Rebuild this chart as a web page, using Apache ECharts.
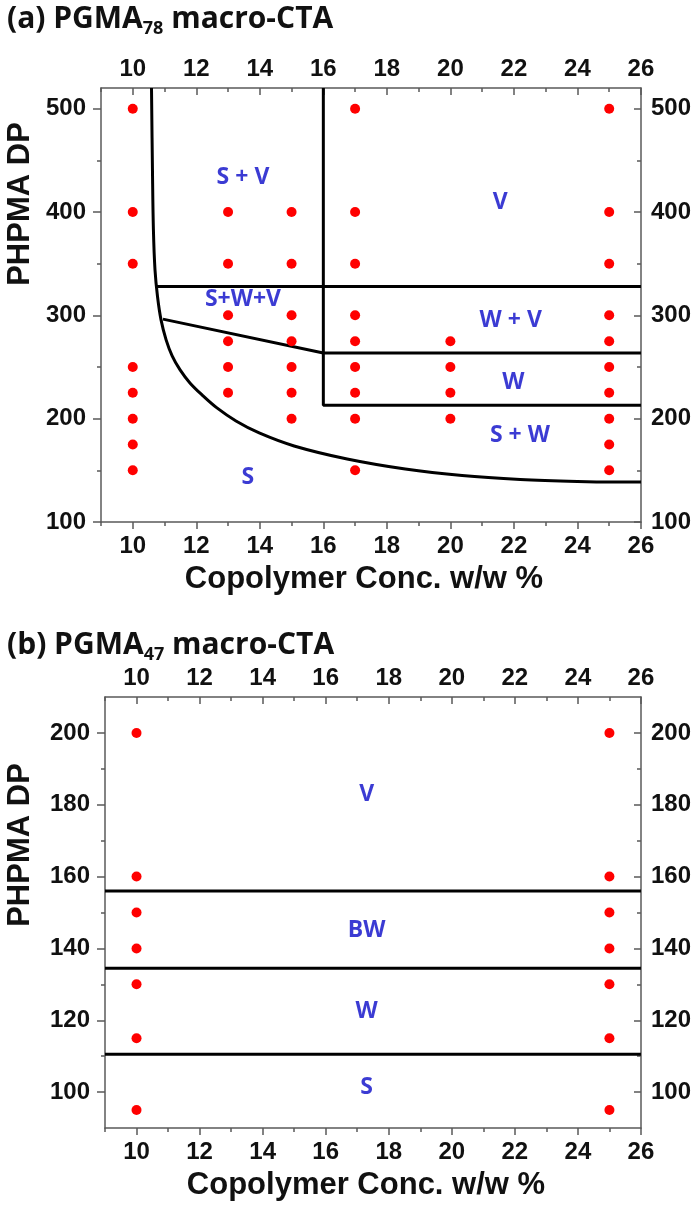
<!DOCTYPE html>
<html><head><meta charset="utf-8">
<script src="https://cdn.jsdelivr.net/npm/echarts@6/dist/echarts.min.js"></script>
<style>html,body{margin:0;padding:0;background:#fff}#c{width:694px;height:1209px}</style>
</head><body><div id="c"></div>
<script>
// ---------- data ----------
const xRange = [9, 26];
const xTicks = [10, 12, 14, 16, 18, 20, 22, 24, 26];
const xMinorTicks = [9, 10, 11, 12, 13, 14, 15, 16, 17, 18, 19, 20, 21, 22, 23, 24, 25, 26];

const yRangeA = [100, 520];
const yTicksA = [100, 200, 300, 400, 500];
const yMinorTicksA = [150, 250, 350, 450];

const yRangeB = [90, 210];
const yTicksB = [100, 120, 140, 160, 180, 200];
const yMinorTicksB = [110, 130, 150, 170, 190];

// panel (a) samples: [conc, DP]
const samplesA = [
  [10, 500], [10, 400], [10, 350], [10, 250], [10, 225], [10, 200], [10, 175], [10, 150],
  [13, 400], [13, 350], [13, 300], [13, 275], [13, 250], [13, 225],
  [15, 400], [15, 350], [15, 300], [15, 275], [15, 250], [15, 225], [15, 200],
  [17, 500], [17, 400], [17, 350], [17, 300], [17, 275], [17, 250], [17, 225], [17, 200], [17, 150],
  [20, 275], [20, 250], [20, 225], [20, 200],
  [25, 500], [25, 400], [25, 350], [25, 300], [25, 275], [25, 250], [25, 225], [25, 200], [25, 175], [25, 150]
];
// panel (a) phase boundaries
const curveA = [
  [10.59, 520], [10.62, 441], [10.65, 383], [10.70, 344], [10.78, 318], [10.89, 295.6],
  [11.05, 276.3], [11.24, 260.8], [11.49, 247.2], [11.80, 234.6], [12.18, 223.0], [12.65, 210.4],
  [13.25, 197.8], [13.98, 186.2], [15.08, 173.6], [16.75, 161.0], [18.58, 151.3], [20.37, 145.0],
  [22.2, 141.2], [24.0, 139.2], [25.19, 138.7], [26, 138.7]
];
const boundA_top = [[10.76, 328], [26, 328]];
const boundA_vert = [[16, 520], [16, 213], [26, 213]];
const boundA_diag = [[10.95, 296.3], [16, 263.5], [26, 263.5]];
const regionNamesA = ['S + V', 'S+W+V', 'V', 'W + V', 'W', 'S + W', 'S'];
const regionAtA = [[13.47, 433], [13.47, 315], [21.57, 409], [21.9, 295], [21.98, 235.5], [22.19, 184], [13.62, 143]];

// panel (b) samples
const samplesB = [
  [10, 200], [10, 160], [10, 150], [10, 140], [10, 130], [10, 115], [10, 95],
  [25, 200], [25, 160], [25, 150], [25, 140], [25, 130], [25, 115], [25, 95]
];
const boundB = [156, 134.5, 110.5];
const regionNamesB = ['V', 'BW', 'W', 'S'];
const regionAtB = [[17.3, 183], [17.3, 145], [17.3, 122.5], [17.3, 101.3]];

// ---------- style ----------
const AX = '#5a5a5a';
const TICK_FONT = 'Liberation Sans, Arial, sans-serif';
const LABEL_FONT = 'Open Sans, sans-serif';
const BLUE = '#0a0ac8';

function xAxesFor(gi, name) {
  const base = {type: 'value', gridIndex: gi, min: xRange[0], max: xRange[1], splitLine: {show: false}};
  const ls = {color: AX, width: 1.5};
  const lbl = {fontFamily: TICK_FONT, fontWeight: 'bold', fontSize: 24, color: '#111'};
  return [
    Object.assign({}, base, {position: 'bottom', name: name, nameLocation: 'middle', nameGap: 42,
      nameTextStyle: {fontFamily: TICK_FONT, fontWeight: 'bold', fontSize: 31, color: '#111', padding: [0, 14, 0, 0]},
      axisLine: {show: true, onZero: false, lineStyle: ls},
      axisTick: {show: true, inside: false, length: 7, customValues: xTicks, lineStyle: ls},
      axisLabel: Object.assign({show: true, customValues: xTicks, margin: 12}, lbl)}),
    Object.assign({}, base, {position: 'bottom', axisLine: {show: false},
      axisTick: {show: true, inside: false, length: 4, customValues: xMinorTicks, lineStyle: ls},
      axisLabel: {show: false}}),
    Object.assign({}, base, {position: 'top',
      axisLine: {show: true, onZero: false, lineStyle: ls},
      axisTick: {show: true, inside: true, length: 7, customValues: xTicks, lineStyle: ls},
      axisLabel: Object.assign({show: true, customValues: xTicks, margin: 7}, lbl)}),
    Object.assign({}, base, {position: 'top', axisLine: {show: false},
      axisTick: {show: true, inside: true, length: 4, customValues: xMinorTicks, lineStyle: ls},
      axisLabel: {show: false}})
  ];
}
function yAxesFor(gi, range, majors, minors) {
  const base = {type: 'value', gridIndex: gi, min: range[0], max: range[1], splitLine: {show: false}};
  const ls = {color: AX, width: 1.5};
  const lbl = {fontFamily: TICK_FONT, fontWeight: 'bold', fontSize: 24, color: '#111'};
  return [
    Object.assign({}, base, {position: 'left',
      axisLine: {show: true, onZero: false, lineStyle: ls},
      axisTick: {show: true, inside: false, length: 8, customValues: majors, lineStyle: ls},
      axisLabel: Object.assign({show: true, customValues: majors, margin: 15}, lbl)}),
    Object.assign({}, base, {position: 'left', axisLine: {show: false},
      axisTick: {show: true, inside: false, length: 4, customValues: minors, lineStyle: ls},
      axisLabel: {show: false}}),
    Object.assign({}, base, {position: 'right',
      axisLine: {show: true, onZero: false, lineStyle: ls},
      axisTick: {show: true, inside: true, length: 7, customValues: majors, lineStyle: ls},
      axisLabel: Object.assign({show: true, customValues: majors, margin: 10}, lbl)}),
    Object.assign({}, base, {position: 'right', axisLine: {show: false},
      axisTick: {show: true, inside: true, length: 4, customValues: minors, lineStyle: ls},
      axisLabel: {show: false}})
  ];
}

function dots(points, xi, yi) {
  return {type: 'scatter', xAxisIndex: xi, yAxisIndex: yi, data: points, symbol: 'circle', symbolSize: 10,
    itemStyle: {color: '#ff0000', opacity: 1}, silent: true, z: 5};
}
function bound(points, xi, yi, smooth) {
  return {type: 'line', xAxisIndex: xi, yAxisIndex: yi, data: points, showSymbol: false, symbol: 'none',
    smooth: smooth || false, lineStyle: {color: '#000', width: 3}, silent: true, z: 3, clip: true};
}
function regionLabels(names, at, xi, yi) {
  return {type: 'scatter', xAxisIndex: xi, yAxisIndex: yi, symbolSize: 1, silent: true, z: 6,
    itemStyle: {color: 'rgba(0,0,0,0)'},
    data: names.map((n, i) => ({name: n, value: at[i]})),
    label: {show: true, position: 'inside', formatter: '{b}', color: BLUE,
      fontFamily: LABEL_FONT, fontWeight: 'bold', fontSize: 23}};
}

const titleRich = {
  a: {fontFamily: LABEL_FONT, fontWeight: 'bold', fontSize: 30, color: '#111', lineHeight: 38},
  s: {fontFamily: LABEL_FONT, fontWeight: 'bold', fontSize: 18, color: '#111', lineHeight: 21, verticalAlign: 'bottom'}
};

const option = {
  backgroundColor: '#fff',
  animation: false,
  title: [
    {text: '{a|(a) PGMA}{s|78}{a| macro-CTA}', left: 7, top: 0, padding: 0, textStyle: {rich: titleRich}},
    {text: '{a|(b) PGMA}{s|47}{a| macro-CTA}', left: 7, top: 626, padding: 0, textStyle: {rich: titleRich}}
  ],
  grid: [
    {left: 101, top: 88, width: 540, height: 434},
    {left: 105, top: 697, width: 536, height: 431}
  ],
  xAxis: [].concat(xAxesFor(0, 'Copolymer Conc. w/w %'), xAxesFor(1, 'Copolymer Conc. w/w %')),
  yAxis: [].concat(yAxesFor(0, yRangeA, yTicksA, yMinorTicksA), yAxesFor(1, yRangeB, yTicksB, yMinorTicksB)),
  graphic: [
    {type: 'text', x: 20, y: 204, rotation: Math.PI / 2,
      style: {text: 'PHPMA DP', align: 'center', verticalAlign: 'middle',
        font: 'bold 31px Liberation Sans, Arial, sans-serif', fill: '#111'}},
    {type: 'text', x: 20, y: 845, rotation: Math.PI / 2,
      style: {text: 'PHPMA DP', align: 'center', verticalAlign: 'middle',
        font: 'bold 31px Liberation Sans, Arial, sans-serif', fill: '#111'}}
  ],
  series: [
    bound(curveA, 0, 0, 0.35),
    bound(boundA_top, 0, 0),
    bound(boundA_vert, 0, 0),
    bound(boundA_diag, 0, 0),
    dots(samplesA, 0, 0),
    regionLabels(regionNamesA, regionAtA, 0, 0),
    ...boundB.map(v => bound([[xRange[0], v], [xRange[1], v]], 4, 4)),
    dots(samplesB, 4, 4),
    regionLabels(regionNamesB, regionAtB, 4, 4)
  ]
};
const chart = echarts.init(document.getElementById('c'), null, {renderer: 'canvas'});
chart.setOption(option);
</script>
</body></html>
